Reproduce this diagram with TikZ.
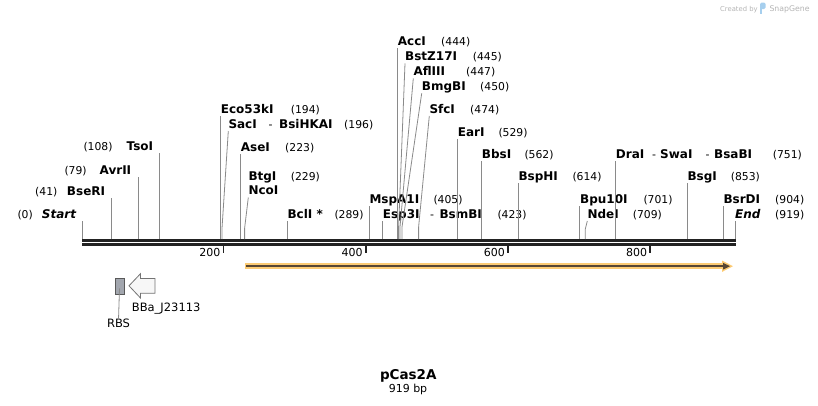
\documentclass[tikz,border=0pt]{standalone}
\usepackage{fontspec}
\setmainfont{DejaVu Sans}[ItalicFont={DejaVu Sans Oblique},BoldFont={DejaVu Sans Bold},BoldItalicFont={DejaVu Sans Bold Oblique}]
\definecolor{ldrc}{HTML}{8A8A8A}
\definecolor{bbc}{HTML}{222222}
\definecolor{orng}{HTML}{FCCB74}
\definecolor{fdark}{HTML}{574634}
\definecolor{rbsfill}{HTML}{A2A6AE}
\definecolor{wmgray}{HTML}{B4B4B4}
\definecolor{wmblue}{HTML}{A6CFEE}
\tikzset{
  nm/.style={anchor=base west, inner sep=0pt, font=\bfseries\fontsize{12}{14}\selectfont},
  nmr/.style={nm, anchor=base east},
  nmi/.style={nm, font=\bfseries\itshape\fontsize{12}{14}\selectfont},
  nmir/.style={nmi, anchor=base east},
  num/.style={anchor=base west, inner sep=0pt, font=\fontsize{10.8}{13}\selectfont},
  dsh/.style={anchor=base west, inner sep=0pt, font=\fontsize{11}{13}\selectfont},
  ldr/.style={draw=ldrc, line width=0.8pt},
  ticklbl/.style={anchor=base east, inner sep=0pt, font=\fontsize{11}{13}\selectfont},
  ticklin/.style={draw=bbc, line width=1.6pt},
  ftlbl/.style={inner sep=0pt, font=\fontsize{11.5}{13}\selectfont}
}
\begin{document}
\begin{tikzpicture}[x=1pt,y=-1pt]
\useasboundingbox (0,0) rectangle (818,405);

% watermark
\node[anchor=base west, inner sep=0pt, text=wmgray, font=\fontsize{6.8}{8}\selectfont] (wm1) at (720,11) {Created by};
\fill[wmblue, rounded corners=1.5pt] (760,2.5) rectangle (765.5,9);
\fill[wmblue] (760,7) rectangle (762.4,13.5);
\node[anchor=base west, inner sep=0pt, text=wmgray, font=\fontsize{7.8}{9}\selectfont] (wm2) at (769.3,11) {SnapGene};

% backbone
\fill[bbc] (82,239) rectangle (735.8,242);
\fill[bbc] (82,243) rectangle (735.8,246);

% ticks
\draw[ticklin] (223.5,246) -- (223.5,252.5);
\draw[ticklin] (365.8,246) -- (365.8,252.5);
\draw[ticklin] (508,246) -- (508,252.5);
\draw[ticklin] (650.2,246) -- (650.2,252.5);
\node[ticklbl] (t200) at (220.5,256.3) {200};
\node[ticklbl] (t400) at (362.8,256.3) {400};
\node[ticklbl] (t600) at (505,256.3) {600};
\node[ticklbl] (t800) at (647.2,256.3) {800};

% ---- left-side labels
\coordinate (cStart) at (82.3,239);  \coordinate (uStart) at (82.3,221);
\draw[ldr] (cStart) -- (uStart);
\node[nmir] (nStart) at (76.3,218.8) {Start};
\node[num] (pStart) at (17.3,218.8) {(0)};

\coordinate (cBseRI) at (111.3,239); \coordinate (uBseRI) at (111.3,198);
\draw[ldr] (cBseRI) -- (uBseRI);
\node[nmr] (nBseRI) at (105.3,195.3) {BseRI};
\node[num] (pBseRI) at (35,195.3) {(41)};

\coordinate (cAvrII) at (138.4,239); \coordinate (uAvrII) at (138.4,176.7);
\draw[ldr] (cAvrII) -- (uAvrII);
\node[nmr] (nAvrII) at (131.4,174.3) {AvrII};
\node[num] (pAvrII) at (64.3,174.3) {(79)};

\coordinate (cTsoI) at (159.2,239); \coordinate (uTsoI) at (159.2,153.3);
\draw[ldr] (cTsoI) -- (uTsoI);
\node[nmr] (nTsoI) at (153.3,150.7) {TsoI};
\node[num] (pTsoI) at (83.3,150.7) {(108)};

% ---- right-side labels
\coordinate (cEco) at (220.8,239); \coordinate (uEco) at (220.8,116);
\draw[ldr] (cEco) -- (uEco);
\node[nm] (nEco) at (220.7,113.3) {Eco53kI};
\node[num] (pEco) at (290.7,113.3) {(194)};

\coordinate (cSac) at (222,239); \coordinate (bSac) at (222,228.3); \coordinate (uSac) at (228.3,131);
\draw[ldr] (cSac) -- (bSac) -- (uSac);
\node[nm] (nSac) at (228.3,128.3) {SacI};
\node[dsh] (dSac) at (268.5,128.3) {-};
\node[nm] (nBsiHKAI) at (279,128.3) {BsiHKAI};
\node[num] (pSac) at (344,128.3) {(196)};

\coordinate (cAse) at (240.6,239); \coordinate (uAse) at (240.6,153.5);
\draw[ldr] (cAse) -- (uAse);
\node[nm] (nAse) at (240.7,151) {AseI};
\node[num] (pAse) at (285,151) {(223)};

\coordinate (cNco) at (244.6,239); \coordinate (bNco) at (244.6,228.3); \coordinate (uNco) at (248.3,197.5);
\draw[ldr] (cNco) -- (bNco) -- (uNco);
\node[nm] (nBtg) at (248.3,180) {BtgI};
\node[num] (pBtg) at (290.7,180) {(229)};
\node[nm] (nNco) at (248.3,194.5) {NcoI};

\coordinate (cBcl) at (287.4,239); \coordinate (uBcl) at (287.4,221);
\draw[ldr] (cBcl) -- (uBcl);
\node[nm] (nBcl) at (287.3,218.3) {BclI *};
\node[num] (pBcl) at (334.3,218.3) {(289)};

\coordinate (cMsp) at (369.5,239); \coordinate (uMsp) at (369.5,206);
\draw[ldr] (cMsp) -- (uMsp);
\node[nm] (nMsp) at (369.3,203.3) {MspA1I};
\node[num] (pMsp) at (433.3,203.3) {(405)};

\coordinate (cEsp) at (382.6,239); \coordinate (uEsp) at (382.6,221);
\draw[ldr] (cEsp) -- (uEsp);
\node[nm] (nEsp) at (382.7,218.3) {Esp3I};
\node[dsh] (dEsp) at (430,218.3) {-};
\node[nm] (nBsmBI) at (439.3,218.3) {BsmBI};
\node[num] (pEsp) at (497.3,218.3) {(423)};

\coordinate (cAcc) at (397.7,239); \coordinate (uAcc) at (397.7,48.3);
\draw[ldr] (cAcc) -- (uAcc);
\node[nm] (nAcc) at (397.7,45.7) {AccI};
\node[num] (pAcc) at (441,45.7) {(444)};

\coordinate (cBst) at (398.6,239); \coordinate (bBst) at (398.6,227); \coordinate (uBst) at (405,63.3);
\draw[ldr] (cBst) -- (bBst) -- (uBst);
\node[nm] (nBst) at (405,60.7) {BstZ17I};
\node[num] (pBst) at (472.7,60.7) {(445)};

\coordinate (cAfl) at (400,239); \coordinate (bAfl) at (400,227); \coordinate (uAfl) at (413.3,78.3);
\draw[ldr] (cAfl) -- (bAfl) -- (uAfl);
\node[nm] (nAfl) at (413.3,75.7) {AflIII};
\node[num] (pAfl) at (466,75.7) {(447)};

\coordinate (cBmg) at (402,239); \coordinate (bBmg) at (402,227); \coordinate (uBmg) at (421.7,93.3);
\draw[ldr] (cBmg) -- (bBmg) -- (uBmg);
\node[nm] (nBmg) at (421.7,90.7) {BmgBI};
\node[num] (pBmg) at (480,90.7) {(450)};

\coordinate (cSfc) at (418.6,239); \coordinate (bSfc) at (418.6,227); \coordinate (uSfc) at (429.3,116);
\draw[ldr] (cSfc) -- (bSfc) -- (uSfc);
\node[nm] (nSfc) at (429.3,113.3) {SfcI};
\node[num] (pSfc) at (470,113.3) {(474)};

\coordinate (cEar) at (457.8,239); \coordinate (uEar) at (457.8,138.5);
\draw[ldr] (cEar) -- (uEar);
\node[nm] (nEar) at (457.7,136) {EarI};
\node[num] (pEar) at (498.3,136) {(529)};

\coordinate (cBbs) at (481.6,239); \coordinate (uBbs) at (481.6,161);
\draw[ldr] (cBbs) -- (uBbs);
\node[nm] (nBbs) at (481.7,158.3) {BbsI};
\node[num] (pBbs) at (524.3,158.3) {(562)};

\coordinate (cBsp) at (518.4,239); \coordinate (uBsp) at (518.4,183);
\draw[ldr] (cBsp) -- (uBsp);
\node[nm] (nBsp) at (518.3,180) {BspHI};
\node[num] (pBsp) at (572.3,180) {(614)};

\coordinate (cBpu) at (579.6,239); \coordinate (uBpu) at (579.6,206);
\draw[ldr] (cBpu) -- (uBpu);
\node[nm] (nBpu) at (580,203.3) {Bpu10I};
\node[num] (pBpu) at (643.3,203.3) {(701)};

\coordinate (cNde) at (585.3,239); \coordinate (bNde) at (585.3,229); \coordinate (uNde) at (587.3,221);
\draw[ldr] (cNde) -- (bNde) -- (uNde);
\node[nm] (nNde) at (587.3,218.3) {NdeI};
\node[num] (pNde) at (632.7,218.3) {(709)};

\coordinate (cDra) at (615.7,239); \coordinate (uDra) at (615.7,161);
\draw[ldr] (cDra) -- (uDra);
\node[nm] (nDra) at (615.7,158.3) {DraI};
\node[dsh] (dDra1) at (652,158.3) {-};
\node[nm] (nSwa) at (660,158.3) {SwaI};
\node[dsh] (dDra2) at (705.5,158.3) {-};
\node[nm] (nBsa) at (714,158.3) {BsaBI};
\node[num] (pDra) at (772.7,158.3) {(751)};

\coordinate (cBsg) at (687.4,239); \coordinate (uBsg) at (687.4,183);
\draw[ldr] (cBsg) -- (uBsg);
\node[nm] (nBsg) at (687.3,180.7) {BsgI};
\node[num] (pBsg) at (730.7,180.7) {(853)};

\coordinate (cBsr) at (723.5,239); \coordinate (uBsr) at (723.5,206);
\draw[ldr] (cBsr) -- (uBsr);
\node[nm] (nBsr) at (723.3,203.3) {BsrDI};
\node[num] (pBsr) at (775,203.3) {(904)};

\coordinate (cEnd) at (735.3,239); \coordinate (uEnd) at (735.3,221);
\draw[ldr] (cEnd) -- (uEnd);
\node[nmi] (nEnd) at (735,218.3) {End};
\node[num] (pEnd) at (775,218.3) {(919)};

% ---- feature arrow (orange highlighted)
\fill[orng] (245,263.2) rectangle (726,269.2);
\fill[orng] (722,260.5) -- (733,266.2) -- (722,271.9) -- cycle;
\draw[fdark, line width=2pt] (246,266.2) -- (726,266.2);
\fill[fdark] (723,262.8) -- (730,266.2) -- (723,269.6) -- cycle;

% ---- RBS
\node[draw=black!65, fill=rbsfill, line width=0.8pt, minimum width=9pt, minimum height=16pt, inner sep=0pt] (rbs) at (119.5,286) {};
\node[ftlbl, anchor=base] (rbsl) at (118.5,327) {RBS};
\draw[ldr] ([yshift=6pt]rbs.south) -- ([yshift=-1.5pt]rbsl.north);

% ---- promoter BBa_J23113 (left arrow)
\draw[draw=black!55, fill=black!3, line width=0.8pt] (129,285.8) -- (140.5,273.7) -- (140.5,278.5) -- (155,278.5) -- (155,293.3) -- (140.5,293.3) -- (140.5,298) -- cycle;
\node[ftlbl, anchor=base west] (prom) at (131.7,311.7) {BBa\_J23113};

% ---- title
\node[inner sep=0pt, anchor=base, font=\bfseries\fontsize{13.5}{16}\selectfont] (title) at (408.3,379.3) {pCas2A};
\node[inner sep=0pt, anchor=base, font=\fontsize{11}{13}\selectfont] (size) at (408,392.7) {919 bp};
\end{tikzpicture}
\end{document}
